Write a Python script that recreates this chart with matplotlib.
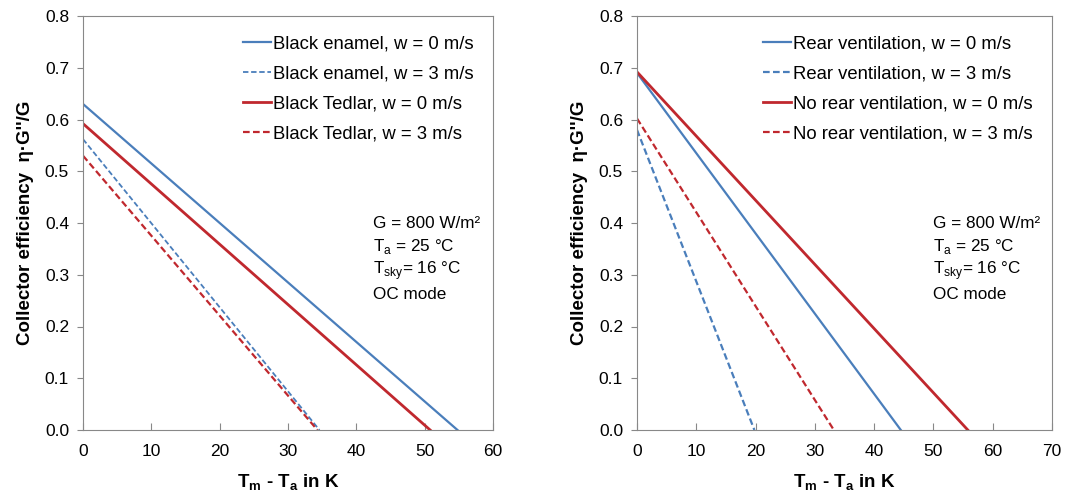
import matplotlib.pyplot as plt

plt.rcParams['font.family'] = ['Liberation Sans', 'DejaVu Sans']

# Left panel: absorber surface
left_labels = ['Black enamel, w = 0 m/s', 'Black enamel, w = 3 m/s',
               'Black Tedlar, w = 0 m/s', 'Black Tedlar, w = 3 m/s']
left_eta0 = [0.630, 0.562, 0.592, 0.530]
left_xzero = [54.8, 34.6, 50.8, 34.3]

# Right panel: rear ventilation
right_labels = ['Rear ventilation, w = 0 m/s', 'Rear ventilation, w = 3 m/s',
                'No rear ventilation, w = 0 m/s', 'No rear ventilation, w = 3 m/s']
right_eta0 = [0.690, 0.580, 0.692, 0.602]
right_xzero = [44.5, 19.8, 55.8, 33.2]

blue = '#4a7ebb'
red = '#c0282e'
left_styles = [(blue, '-', 1.6), (blue, '--', 1.3), (red, '-', 2.0), (red, '--', 1.6)]
right_styles = [(blue, '-', 1.6), (blue, '--', 1.6), (red, '-', 2.0), (red, '--', 1.6)]

info = ['G = 800 W/m²', 'T$_\\mathregular{a}$ = 25 °C',
        'T$_\\mathregular{sky}$= 16 °C', 'OC mode']

fig = plt.figure(figsize=(10.75, 4.92), dpi=100)
ax1 = fig.add_axes([83/1075, 62/492, 410/1075, 414/492])
ax2 = fig.add_axes([637/1075, 62/492, 415/1075, 414/492])


def draw(ax, labels, eta0, xzero, styles, xmax, info_x):
    for lab, y0, x0, (c, ls, lw) in zip(labels, eta0, xzero, styles):
        ax.plot([0, x0], [y0, 0], color=c, ls=ls, lw=lw, label=lab,
                dashes=(3, 1.5) if ls == '--' else (None, None))
    ax.set_xlim(0, xmax)
    ax.set_ylim(0, 0.8)
    ax.set_xticks(range(0, xmax + 1, 10))
    ax.set_yticks([i / 10 for i in range(9)])
    ax.set_yticklabels([f'{i / 10:.1f}' for i in range(9)])
    for s in ax.spines.values():
        s.set_color('#888888')
    ax.tick_params(axis='x', direction='in', length=5, color='#888888',
                   labelsize=12.5, pad=10)
    ax.tick_params(axis='y', direction='out', length=4, color='#888888',
                   labelsize=12.5, pad=6)
    ax.set_xlabel('T$_\\mathregular{m}$ - T$_\\mathregular{a}$ in K',
                  fontsize=13.5, fontweight='bold', labelpad=10)
    ax.set_ylabel("Collector efficiency  η·G''/G", fontsize=13.5,
                  fontweight='bold', labelpad=8)
    ax.legend(loc='upper right', frameon=False, fontsize=13.3,
              handlelength=1.5, handletextpad=0.1, labelspacing=0.7,
              borderaxespad=0.65)
    for i, t in enumerate(info):
        ax.text(info_x, 0.40 - i * 0.046, t, fontsize=12.3, va='center')


draw(ax1, left_labels, left_eta0, left_xzero, left_styles, 60, 42.4)
draw(ax2, right_labels, right_eta0, right_xzero, right_styles, 70, 50.0)

fig.savefig('out.png', dpi=100)
